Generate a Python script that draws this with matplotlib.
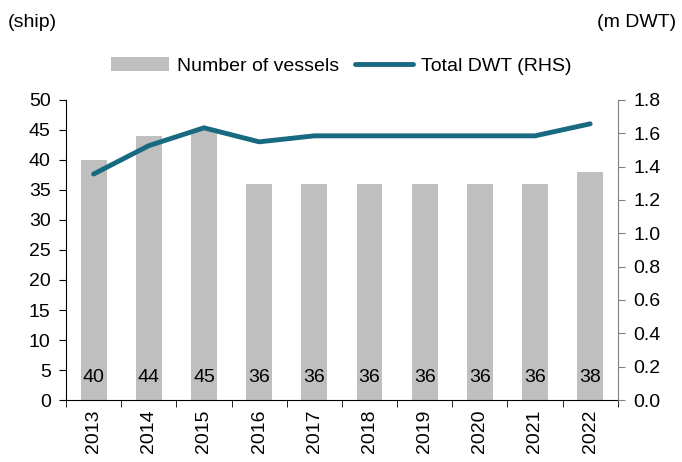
import matplotlib
matplotlib.use("Agg")
import matplotlib.pyplot as plt
import numpy as np

plt.rcParams['font.family'] = ['Liberation Sans', 'DejaVu Sans']

years = ['2013', '2014', '2015', '2016', '2017', '2018', '2019', '2020', '2021', '2022']
vessels = [40, 44, 45, 36, 36, 36, 36, 36, 36, 38]
dwt = [1.355, 1.525, 1.632, 1.548, 1.584, 1.584, 1.584, 1.584, 1.584, 1.656]

bar_color = '#BFBFBF'
line_color = '#176A80'
fs = 14

fig = plt.figure(figsize=(6.82, 4.62), dpi=100)
ax = fig.add_axes([0.0968, 0.134, 0.809, 0.650])
x = np.arange(len(years))
bars = ax.bar(x, vessels, width=0.47, color=bar_color, label='Number of vessels', zorder=1)
for xi, v in zip(x, vessels):
    ax.text(xi, 3.7, str(v), ha='center', va='center', fontsize=fs, color='black', zorder=3)
ax.set_ylim(0, 50)
ax.set_yticks(range(0, 51, 5))
ax.set_xlim(-0.5, len(years) - 0.5)
ax.set_xticks(x)
ax.set_xticklabels(years, rotation=90, fontsize=fs)
ax.set_xticks(np.arange(-0.5, len(years), 1.0), minor=True)
ax.tick_params(axis='x', which='major', length=0, pad=7)
ax.tick_params(axis='x', which='minor', length=5, direction='out', color='black')
ax.tick_params(axis='y', labelsize=fs, direction='out', length=5, pad=6)
for s in ['top', 'right']:
    ax.spines[s].set_visible(False)

ax2 = ax.twinx()
ln, = ax2.plot(x, dwt, color=line_color, linewidth=3.5, label='Total DWT (RHS)', solid_capstyle='round', zorder=4)
ax2.set_ylim(0, 1.8)
ax2.set_yticks(np.arange(0, 1.81, 0.2))
ax2.set_yticklabels([f'{v:.1f}' for v in np.arange(0, 1.81, 0.2)])
ax2.tick_params(axis='y', labelsize=fs, direction='out', length=5, color='#808080', pad=6)
for s in ['top', 'left', 'bottom']:
    ax2.spines[s].set_visible(False)
ax2.spines['right'].set_color('#808080')

fig.legend([bars, ln], ['Number of vessels', 'Total DWT (RHS)'], loc='center',
           bbox_to_anchor=(0.5, 0.857), ncol=2, frameon=False, fontsize=fs,
           handlelength=3.0, handletextpad=0.4, columnspacing=0.8)

fig.text(0.012, 0.952, '(ship)', fontsize=fs, ha='left', va='center')
fig.text(0.992, 0.952, '(m DWT)', fontsize=fs, ha='right', va='center')

fig.savefig('out.png', dpi=100)
